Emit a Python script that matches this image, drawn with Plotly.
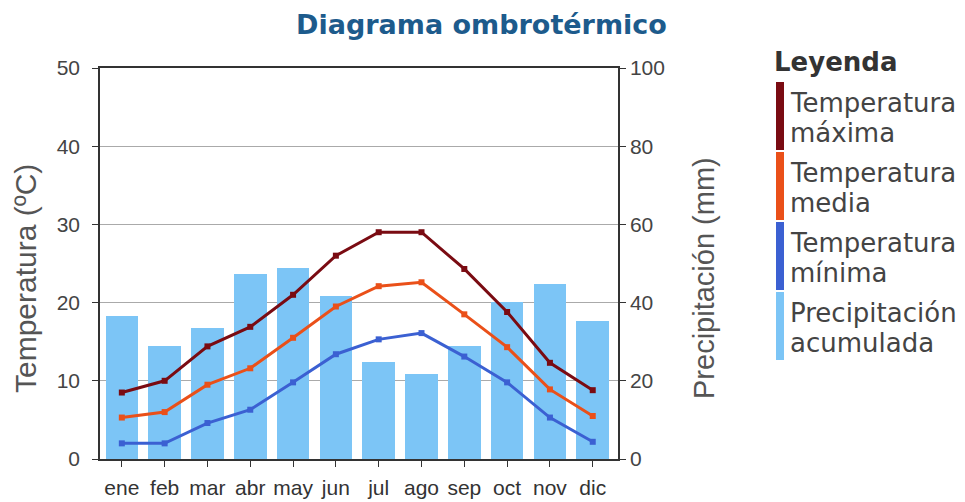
import plotly.graph_objects as go

meses = ["ene", "feb", "mar", "abr", "may", "jun", "jul", "ago", "sep", "oct", "nov", "dic"]
precipitacion = [36.7, 29.0, 33.6, 47.3, 48.8, 41.6, 24.8, 21.8, 29.0, 40.2, 44.8, 35.3]
t_max = [8.5, 10.0, 14.4, 16.9, 21.0, 26.0, 29.0, 29.0, 24.3, 18.8, 12.3, 8.8]
t_med = [5.3, 6.0, 9.5, 11.6, 15.5, 19.5, 22.1, 22.6, 18.5, 14.3, 8.9, 5.5]
t_min = [2.0, 2.0, 4.6, 6.3, 9.8, 13.4, 15.3, 16.1, 13.1, 9.8, 5.3, 2.2]

leyenda = [
    ("Temperatura", "máxima", "#7a0b12"),
    ("Temperatura", "media", "#ea5019"),
    ("Temperatura", "mínima", "#3b60d2"),
    ("Precipitación", "acumulada", "#7cc5f6"),
]

L, R, T, B = 100, 618, 68, 459
W, H = 965, 502


def px(x):
    return (x - L) / (R - L)


def py(y):
    return (B - y) / (B - T)


xs = list(range(len(meses)))

fig = go.Figure()
fig.add_trace(go.Bar(x=xs, y=precipitacion, marker=dict(color=leyenda[3][2], line=dict(width=0)),
                     width=0.76, yaxis="y", showlegend=False, hoverinfo="y"))
for serie, (_, _, col) in zip([t_max, t_med, t_min], leyenda[:3]):
    fig.add_trace(go.Scatter(x=xs, y=serie, mode="lines+markers", yaxis="y2",
                             line=dict(color=col, width=3),
                             marker=dict(color=col, size=6, symbol="square"),
                             showlegend=False))

tick_font = dict(family="Liberation Sans, Arial", size=21, color="#444")
fig.update_layout(
    width=W, height=H,
    margin=dict(l=L, r=W - R, t=T, b=H - B, pad=0, autoexpand=False),
    paper_bgcolor="white", plot_bgcolor="white",
    bargap=0,
    xaxis=dict(range=[-0.51, 11.59], tickvals=xs, ticktext=meses, ticks="outside", ticklen=6,
               tickcolor="#333", showline=True, linecolor="#333", linewidth=1.5, mirror=True,
               showgrid=False, zeroline=False, ticklabelstandoff=3, automargin=False,
               tickfont=dict(family="Liberation Sans, Arial", size=21, color="#333"),
               fixedrange=True),
    yaxis=dict(side="right", range=[0, 100], dtick=20, ticks="outside", ticklen=6, tickcolor="#333",
               showline=True, linecolor="#333", linewidth=1.5, showgrid=True, gridcolor="#aaa",
               gridwidth=1, zeroline=False, tickfont=tick_font, automargin=False),
    yaxis2=dict(side="left", overlaying="y", range=[0, 50], dtick=10, ticks="outside", ticklen=6,
                tickcolor="#333", showline=True, linecolor="#333", linewidth=1.5, showgrid=False,
                zeroline=False, tickfont=tick_font, ticklabelstandoff=8, automargin=False),
)

ann = []
ann.append(dict(text="<b>Diagrama ombrotérmico</b>", x=px(481), y=py(24), xref="paper", yref="paper",
                showarrow=False, font=dict(family="DejaVu Sans", size=27, color="#1d5b8c"),
                xanchor="center", yanchor="middle"))
ann.append(dict(text="Temperatura (ºC)", x=px(25), y=py(279), xref="paper", yref="paper", textangle=-90,
                showarrow=False, font=dict(family="Liberation Sans, Arial", size=30, color="#555"),
                xanchor="center", yanchor="middle"))
ann.append(dict(text="Precipitación (mm)", x=px(704), y=py(278), xref="paper", yref="paper", textangle=-90,
                showarrow=False, font=dict(family="Liberation Sans, Arial", size=29, color="#555"),
                xanchor="center", yanchor="middle"))
ann.append(dict(text="<b>Leyenda</b>", x=px(772), y=py(62), xref="paper", yref="paper",
                showarrow=False, font=dict(family="DejaVu Sans", size=26, color="#333"),
                xanchor="left", yanchor="middle"))
shapes = []
for i, (l1, l2, col) in enumerate(leyenda):
    top = 82 + 70 * i
    shapes.append(dict(type="rect", xref="paper", yref="paper", x0=px(776), x1=px(784),
                       y0=py(top), y1=py(top + 68), fillcolor=col, line=dict(width=0)))
    for j, t in enumerate([l1, l2]):
        ann.append(dict(text=t, x=px(788), y=py(top + 21 + 30 * j), xref="paper", yref="paper",
                        showarrow=False, font=dict(family="DejaVu Sans", size=26, color="#444"),
                        xanchor="left", yanchor="middle"))
fig.update_layout(annotations=ann, shapes=shapes)

fig.write_html("out.html", config={"displayModeBar": False},
               post_script="document.body.style.margin='0';")
